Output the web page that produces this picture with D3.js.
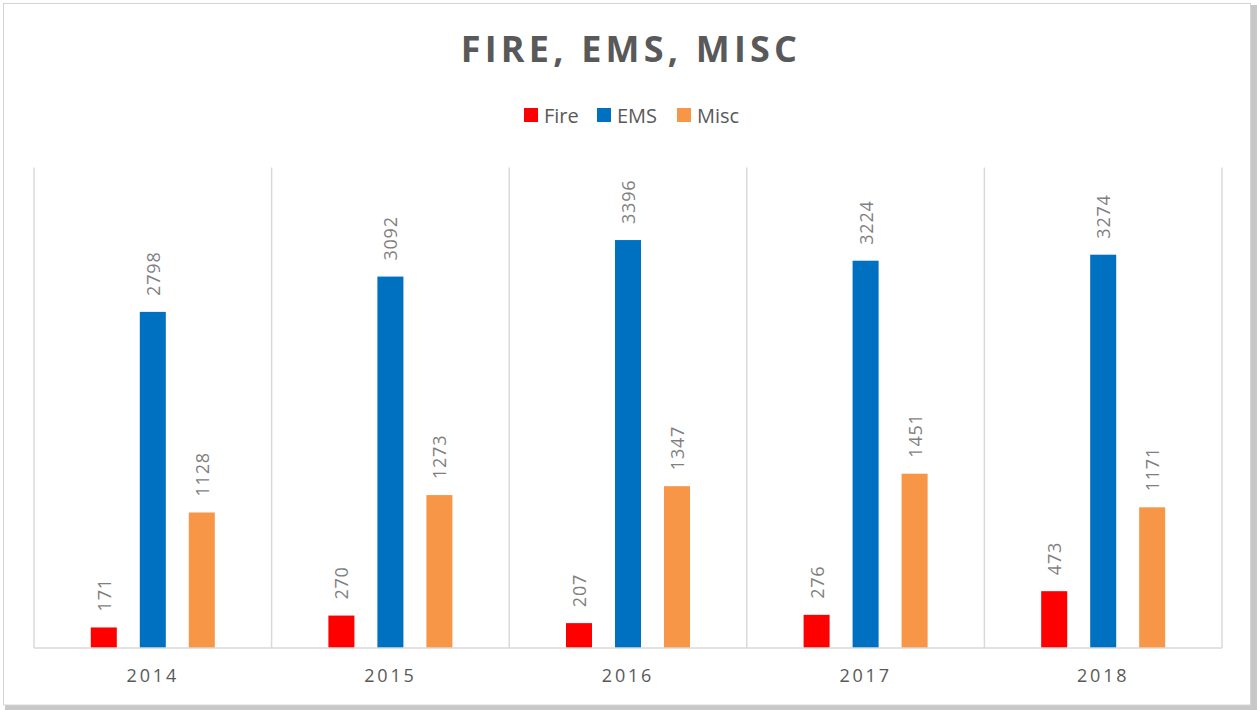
<!DOCTYPE html>
<html>
<head>
<meta charset="utf-8">
<script src="https://cdn.jsdelivr.net/npm/d3@7"></script>
<style>
  html, body { margin: 0; padding: 0; background: #ffffff; }
  svg { display: block; }
  text { font-family: "Open Sans", "Noto Sans", sans-serif; }
</style>
</head>
<body>
<svg id="chart" width="1257" height="710"></svg>
<script>
// Yearly call counts by type
const years = ["2014", "2015", "2016", "2017", "2018"];
const seriesNames = ["Fire", "EMS", "Misc"];
const fireCalls = [171, 270, 207, 276, 473];
const emsCalls = [2798, 3092, 3396, 3224, 3274];
const miscCalls = [1128, 1273, 1347, 1451, 1171];
const seriesColors = ["#ff0000", "#0070c0", "#f79646"];
const yMax = 4000;

const seriesValues = [fireCalls, emsCalls, miscCalls];
const rows = years.map((y, i) => ({
  year: y,
  values: seriesNames.map((s, k) => ({ series: s, value: seriesValues[k][i], color: seriesColors[k] }))
}));

const W = 1257, H = 710;
const plot = { left: 34, right: 1222, top: 167.5, bottom: 648 };

const svg = d3.select("#chart");

// Frame with a soft drop shadow on the right and bottom
svg.append("rect").attr("x", 5).attr("y", 5).attr("width", W - 5).attr("height", H - 5).attr("fill", "#c8c8c8");
svg.append("rect").attr("x", 3.5).attr("y", 3.5).attr("width", 1247).attr("height", 701.5)
  .attr("fill", "#ffffff").attr("stroke", "#d4d4d4").attr("stroke-width", 1);

const x = d3.scaleBand().domain(years).range([plot.left, plot.right]).paddingInner(0).paddingOuter(0);
const xs = d3.scaleBand().domain(seriesNames).range([0, x.bandwidth()]).paddingInner(0.469).paddingOuter(1.159);
const y = d3.scaleLinear().domain([0, yMax]).range([plot.bottom, plot.top]);

// Vertical divider lines between categories
const dividers = years.map(yr => x(yr)).concat([plot.right]);
svg.append("g").selectAll("line").data(dividers).join("line")
  .attr("x1", d => d).attr("x2", d => d)
  .attr("y1", y(yMax)).attr("y2", y(0))
  .attr("stroke", "#d9d9d9").attr("stroke-width", 1.5);

// Bars
const groups = svg.append("g").selectAll("g").data(rows).join("g")
  .attr("transform", d => `translate(${x(d.year)},0)`);

groups.selectAll("rect").data(d => d.values).join("rect")
  .attr("x", d => xs(d.series))
  .attr("width", xs.bandwidth())
  .attr("y", d => y(d.value))
  .attr("height", d => y(0) - y(d.value))
  .attr("fill", d => d.color);

// Rotated value labels above each bar
groups.selectAll("text").data(d => d.values).join("text")
  .attr("transform", d => `translate(${xs(d.series) + xs.bandwidth() / 2 + 7},${y(d.value) - 16}) rotate(-90)`)
  .attr("text-anchor", "start")
  .attr("font-size", 18)
  .attr("letter-spacing", "0.8px")
  .attr("fill", "#7f7f7f")
  .text(d => d.value);

// Category axis
const xAxis = svg.append("g").attr("transform", `translate(0,${plot.bottom})`)
  .call(d3.axisBottom(x).tickSize(0).tickPadding(21));
xAxis.select(".domain").attr("stroke", "#d9d9d9").attr("stroke-width", 1.5)
  .attr("d", `M${plot.left},0H${plot.right}`);
xAxis.selectAll(".tick text")
  .attr("font-family", "\"Open Sans\", sans-serif")
  .attr("font-size", 18)
  .attr("letter-spacing", "2.8px")
  .attr("fill", "#595959");

// Title
svg.append("text")
  .attr("x", 631).attr("y", 62)
  .attr("text-anchor", "middle")
  .attr("font-size", 36)
  .attr("font-weight", "bold")
  .attr("letter-spacing", "4.2px")
  .attr("fill", "#595959")
  .text("FIRE, EMS, MISC");

// Legend
const legendItems = [
  { name: "Fire", color: seriesColors[0], x: 524 },
  { name: "EMS", color: seriesColors[1], x: 597 },
  { name: "Misc", color: seriesColors[2], x: 677 }
];
const legend = svg.append("g").selectAll("g").data(legendItems).join("g")
  .attr("transform", d => `translate(${d.x},108)`);
legend.append("rect").attr("width", 14).attr("height", 14).attr("fill", d => d.color);
legend.append("text").attr("x", 20).attr("y", 14.5)
  .attr("font-size", 20).attr("fill", "#595959").text(d => d.name);
</script>
</body>
</html>
